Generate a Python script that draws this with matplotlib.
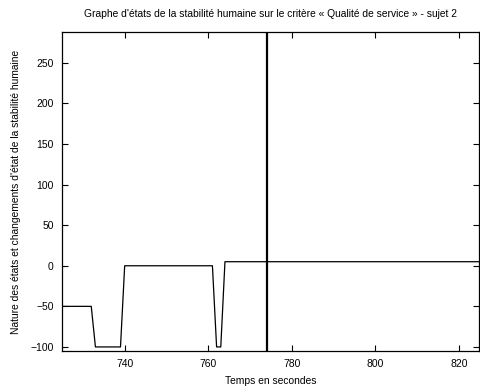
import matplotlib
matplotlib.use('Agg')
import matplotlib.pyplot as plt

plt.rcParams['font.family'] = ['Liberation Sans', 'DejaVu Sans']

# temps (s) et etat de stabilite
temps = [725, 732, 733, 739, 740, 761, 762, 763, 764, 825]
etats = [-50, -50, -100, -100, 0, 0, -100, -100, 5, 5]
instant_coupure = 774

xticks = [740, 760, 780, 800, 820]
yticks = [-100, -50, 0, 50, 100, 150, 200, 250]

fig = plt.figure(figsize=(4.81, 3.89), dpi=100)
ax = fig.add_axes([62 / 481, 1 - 351 / 389, (479 - 62) / 481, (351 - 32) / 389])

ax.plot(temps, etats, color='black', linewidth=0.9)
ax.axvline(instant_coupure, color='black', linewidth=1.6)

ax.set_xlim(725, 824.8)
ax.set_ylim(-105, 288)
ax.set_xticks(xticks)
ax.set_yticks(yticks)
ax.tick_params(direction='in', length=4, width=0.8, labelsize=7.5,
               top=True, right=True, pad=6)
for s in ax.spines.values():
    s.set_linewidth(0.9)

ax.set_title("Graphe d'états de la stabilité humaine sur le critère « Qualité de service » - sujet 2",
             fontsize=7.4, pad=11)
ax.set_xlabel('Temps en secondes', fontsize=7.4, labelpad=5)
ax.set_ylabel("Nature des états et changements d'état de la stabilité humaine",
              fontsize=7.4, labelpad=7)

fig.savefig('out.png', dpi=100)
